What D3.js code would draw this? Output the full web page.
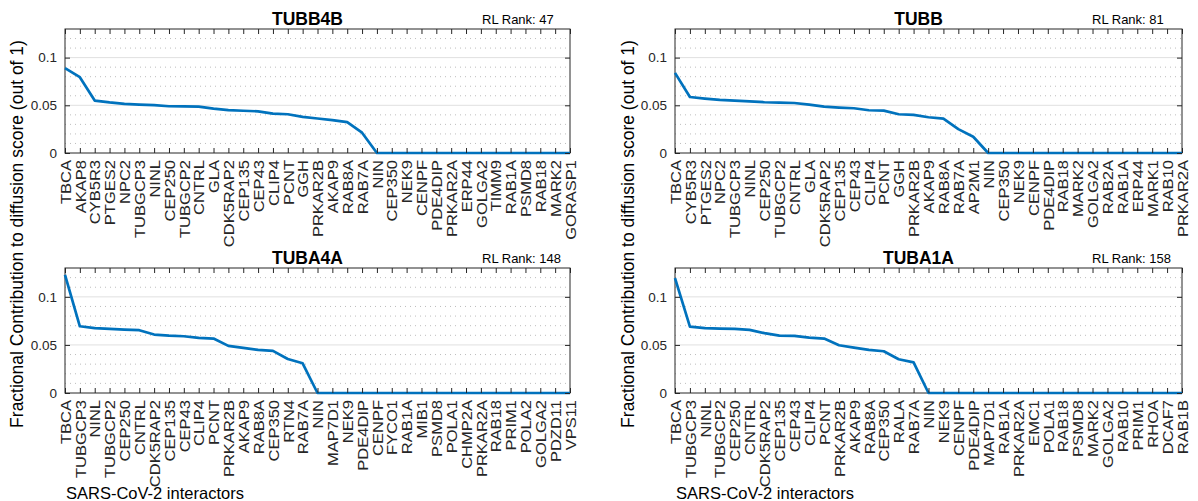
<!DOCTYPE html>
<html>
<head>
<meta charset="utf-8">
<script src="https://cdn.jsdelivr.net/npm/d3@7"></script>
<style>
  body { margin: 0; background: #fff; }
  text { font-family: "Liberation Sans", Arial, Helvetica, sans-serif; }
</style>
</head>
<body>
<script>
// ---- data ----
var genesTUBB4B = ["TBCA","AKAP8","CYB5R3","PTGES2","NPC2","TUBGCP3","NINL","CEP250","TUBGCP2","CNTRL","GLA","CDK5RAP2","CEP135","CEP43","CLIP4","PCNT","GGH","PRKAR2B","AKAP9","RAB8A","RAB7A","NIN","CEP350","NEK9","CENPF","PDE4DIP","PRKAR2A","ERP44","GOLGA2","TIMM9","RAB1A","PSMD8","RAB18","MARK2","GORASP1"];
var valuesTUBB4B = [0.089,0.0795,0.055,0.053,0.0515,0.0507,0.0502,0.049,0.0489,0.0486,0.0465,0.0449,0.0443,0.0437,0.0413,0.0406,0.0378,0.0362,0.0345,0.0324,0.0213,0,0,0,0,0,0,0,0,0,0,0,0,0,0];

var genesTUBB = ["TBCA","CYB5R3","PTGES2","NPC2","TUBGCP3","NINL","CEP250","TUBGCP2","CNTRL","GLA","CDK5RAP2","CEP135","CEP43","CLIP4","PCNT","GGH","PRKAR2B","AKAP9","RAB8A","RAB7A","AP2M1","NIN","CEP350","NEK9","CENPF","PDE4DIP","RAB18","MARK2","GOLGA2","RAB2A","RAB1A","ERP44","MARK1","RAB10","PRKAR2A"];
var valuesTUBB = [0.084,0.0587,0.057,0.0556,0.055,0.0542,0.0532,0.0528,0.0524,0.0507,0.0486,0.0476,0.0469,0.0448,0.0444,0.0406,0.0399,0.0375,0.036,0.025,0.017,0,0,0,0,0,0,0,0,0,0,0,0,0,0];

var genesTUBA4A = ["TBCA","TUBGCP3","NINL","TUBGCP2","CEP250","CNTRL","CDK5RAP2","CEP135","CEP43","CLIP4","PCNT","PRKAR2B","AKAP9","RAB8A","CEP350","RTN4","RAB7A","NIN","MAP7D1","NEK9","PDE4DIP","CENPF","FYCO1","RAB1A","MIB1","PSMD8","POLA1","CHMP2A","PRKAR2A","RAB18","PRIM1","POLA2","GOLGA2","PDZD11","VPS11"];
var valuesTUBA4A = [0.1229,0.0694,0.0674,0.0667,0.066,0.0653,0.0608,0.0597,0.059,0.0573,0.0566,0.049,0.0469,0.0448,0.0438,0.0354,0.0309,0,0,0,0,0,0,0,0,0,0,0,0,0,0,0,0,0,0];

var genesTUBA1A = ["TBCA","TUBGCP3","NINL","TUBGCP2","CEP250","CNTRL","CDK5RAP2","CEP135","CEP43","CLIP4","PCNT","PRKAR2B","AKAP9","RAB8A","CEP350","RALA","RAB7A","NIN","NEK9","CENPF","PDE4DIP","MAP7D1","RAB1A","PRKAR2A","EMC1","POLA1","RAB18","PSMD8","MARK2","GOLGA2","RAB10","PRIM1","RHOA","DCAF7","RAB1B"];
var valuesTUBA1A = [0.1194,0.069,0.0674,0.067,0.0667,0.0656,0.0622,0.0597,0.0594,0.0576,0.0566,0.0497,0.0472,0.0448,0.0434,0.0351,0.0319,0,0,0,0,0,0,0,0,0,0,0,0,0,0,0,0,0,0];

var titles = ["TUBB4B","TUBB","TUBA4A","TUBA1A"];
var rlRanks = [47, 81, 148, 158];
var yTicks = [0, 0.05, 0.1];
var yMinorTicks = [0.01,0.02,0.03,0.04,0.06,0.07,0.08,0.09,0.11,0.12];
var yMax = 0.13;

var yLabelText = "Fractional Contribution to diffusion score (out of 1)";
var xLabelText = "SARS-CoV-2 interactors";

// ---- layout ----
var W = 1198, H = 501;
var axisColor = "#262626";
var lineColor = "#0072BD";
var labelStretch = 1.14;   // gene names look stretched along their length

var panels = [
  {genes: genesTUBB4B, values: valuesTUBB4B, title: titles[0], rank: rlRanks[0], left: 65,  right: 570,  top: 29,  bottom: 153},
  {genes: genesTUBB,   values: valuesTUBB,   title: titles[1], rank: rlRanks[1], left: 675, right: 1182, top: 29,  bottom: 153},
  {genes: genesTUBA4A, values: valuesTUBA4A, title: titles[2], rank: rlRanks[2], left: 65,  right: 570,  top: 268, bottom: 393},
  {genes: genesTUBA1A, values: valuesTUBA1A, title: titles[3], rank: rlRanks[3], left: 675, right: 1182, top: 268, bottom: 393}
];

var svg = d3.select("body").append("svg")
    .attr("width", W)
    .attr("height", H);

panels.forEach(function(p) {
  var x = d3.scalePoint().domain(p.genes).range([p.left, p.right]).padding(0);
  var y = d3.scaleLinear().domain([0, yMax]).range([p.bottom, p.top]);

  var g = svg.append("g");

  // minor grid (dotted)
  g.selectAll(".minor")
      .data(yMinorTicks)
      .enter().append("line")
      .attr("x1", p.left).attr("x2", p.right)
      .attr("y1", function(d) { return y(d); })
      .attr("y2", function(d) { return y(d); })
      .style("stroke", "#bdbdbd")
      .style("stroke-width", 1)
      .style("stroke-dasharray", "1,4");

  // major grid
  g.selectAll(".major")
      .data(yTicks.filter(function(d) { return d > 0; }))
      .enter().append("line")
      .attr("x1", p.left).attr("x2", p.right)
      .attr("y1", function(d) { return y(d); })
      .attr("y2", function(d) { return y(d); })
      .style("stroke", "#e0e0e0")
      .style("stroke-width", 1);

  // box
  g.append("rect")
      .attr("x", p.left).attr("y", p.top)
      .attr("width", p.right - p.left).attr("height", p.bottom - p.top)
      .style("fill", "none")
      .style("stroke", axisColor)
      .style("stroke-width", 1);

  // the data line
  var valueline = d3.line()
      .x(function(d, i) { return x(p.genes[i]); })
      .y(function(d) { return y(d); });

  g.append("path")
      .datum(p.values)
      .style("fill", "none")
      .style("stroke", lineColor)
      .style("stroke-width", 2.7)
      .style("stroke-linejoin", "round")
      .attr("d", valueline);

  // bottom axis with rotated gene names
  var xb = g.append("g")
      .attr("transform", "translate(0," + p.bottom + ")")
      .call(d3.axisBottom(x).tickSizeInner(-5).tickSizeOuter(0));
  xb.select(".domain").remove();
  xb.selectAll("line").style("stroke", axisColor);
  xb.selectAll("text")
      .attr("transform", "rotate(-90) scale(" + labelStretch + ",1)")
      .attr("x", -7 / labelStretch)
      .attr("y", 0)
      .attr("dy", "0.36em")
      .style("text-anchor", "end")
      .style("font-size", "14.5px")
      .style("fill", axisColor);

  // top axis ticks
  var xt = g.append("g")
      .attr("transform", "translate(0," + p.top + ")")
      .call(d3.axisTop(x).tickSizeInner(-5).tickSizeOuter(0).tickFormat(""));
  xt.select(".domain").remove();
  xt.selectAll("line").style("stroke", axisColor);

  // left axis
  var yl = g.append("g")
      .attr("transform", "translate(" + p.left + ",0)")
      .call(d3.axisLeft(y).tickValues(yTicks).tickSizeInner(-5).tickSizeOuter(0).tickPadding(8)
        .tickFormat(function(d) { return d === 0 ? "0" : String(+d.toFixed(2)); }));
  yl.select(".domain").remove();
  yl.selectAll("line").style("stroke", axisColor);
  yl.selectAll("text")
      .style("font-size", "13.5px")
      .style("fill", axisColor);

  // right axis ticks
  var yr = g.append("g")
      .attr("transform", "translate(" + p.right + ",0)")
      .call(d3.axisRight(y).tickValues(yTicks).tickSizeInner(-5).tickSizeOuter(0).tickFormat(""));
  yr.select(".domain").remove();
  yr.selectAll("line").style("stroke", axisColor);

  // title
  g.append("text")
      .attr("x", (p.left + p.right) / 2 - 10)
      .attr("y", p.top - 4)
      .style("text-anchor", "middle")
      .style("font-size", "17.5px")
      .style("font-weight", "bold")
      .style("fill", "#000")
      .text(p.title);

  // RL rank
  g.append("text")
      .attr("x", p.left + 417)
      .attr("y", p.top - 5)
      .style("font-size", "13px")
      .style("fill", "#000")
      .text("RL Rank: " + p.rank);
});

// y labels, one per column
[17, 628].forEach(function(cx) {
  svg.append("text")
      .attr("transform", "translate(" + cx + ",234) rotate(-90)")
      .attr("dy", "0.35em")
      .style("text-anchor", "middle")
      .style("font-size", "17.5px")
      .style("fill", "#000")
      .text(yLabelText);
});

// x labels
[66, 676].forEach(function(lx) {
  svg.append("text")
      .attr("x", lx)
      .attr("y", 499)
      .style("font-size", "16.5px")
      .style("fill", "#000")
      .text(xLabelText);
});
</script>
</body>
</html>
